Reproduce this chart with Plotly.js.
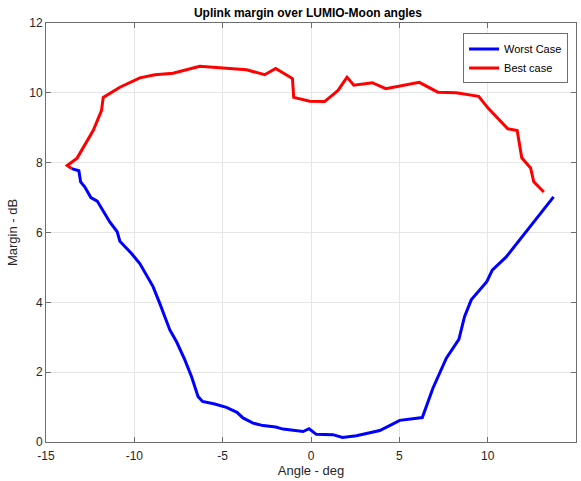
<!DOCTYPE html>
<html>
<head>
<meta charset="utf-8">
<script src="https://cdn.plot.ly/plotly-3.0.1.min.js"></script>
<style>html,body{margin:0;padding:0;background:#fff;}#chart{width:581px;height:481px;}</style>
</head>
<body>
<div id="chart"></div>
<script>
const worstAngle = [-13.55,-13.14,-13.04,-12.80,-12.46,-12.10,-11.39,-10.97,-10.82,-10.16,-9.69,-8.94,-8.56,-7.99,-7.61,-7.14,-6.76,-6.39,-6.14,-5.45,-4.79,-4.19,-3.85,-3.28,-2.71,-2.00,-1.58,-0.45,-0.11,0.30,1.24,1.78,2.57,3.89,4.45,5.02,6.30,6.90,7.66,8.37,8.69,9.07,9.95,10.26,11.05,12.37,12.75,13.73];
const worstMargin = [7.83,7.77,7.45,7.30,7.00,6.90,6.30,6.02,5.75,5.40,5.11,4.45,3.97,3.21,2.87,2.35,1.87,1.30,1.16,1.09,0.99,0.85,0.69,0.54,0.47,0.43,0.37,0.30,0.38,0.22,0.21,0.13,0.18,0.33,0.47,0.62,0.70,1.54,2.40,2.94,3.59,4.07,4.59,4.92,5.30,6.14,6.40,7.02];
const bestAngle = [-13.55,-13.80,-13.24,-12.33,-11.86,-11.76,-10.82,-9.69,-8.84,-7.81,-6.30,-5.16,-4.03,-3.65,-2.62,-2.00,-1.05,-0.98,-0.07,0.77,1.53,2.04,2.42,3.47,4.23,6.13,7.18,8.22,9.49,10.01,11.14,11.67,11.93,12.43,12.61,13.18];
const bestMargin = [7.83,7.92,8.13,8.92,9.49,9.87,10.16,10.43,10.52,10.56,10.76,10.71,10.67,10.66,10.52,10.70,10.41,9.87,9.76,9.75,10.07,10.45,10.22,10.29,10.12,10.30,10.02,10.00,9.90,9.57,8.97,8.92,8.14,7.85,7.45,7.16];
const xTicks = [-15,-10,-5,0,5,10,15];
const yTicks = [0,2,4,6,8,10,12];

const font = 'Liberation Sans, Arial, Helvetica, sans-serif';
const traces = [
  {x: worstAngle, y: worstMargin, type: 'scatter', mode: 'lines', name: 'Worst Case',
   line: {color: '#0000ff', width: 3}},
  {x: bestAngle, y: bestMargin, type: 'scatter', mode: 'lines', name: 'Best case',
   line: {color: '#ff0000', width: 3}}
];
const axisCommon = {
  showline: true, mirror: 'ticks', linecolor: '#6e6e6e', linewidth: 1,
  ticks: 'inside', ticklen: 5, tickcolor: '#6e6e6e',
  showgrid: true, gridcolor: '#e6e6e6', gridwidth: 1, zeroline: false,
  tickfont: {family: font, size: 12, color: '#262626'}
};
const layout = {
  width: 581, height: 481,
  margin: {l: 46, r: 5, t: 23, b: 39},
  paper_bgcolor: '#fff', plot_bgcolor: '#fff',
  font: {family: font, color: '#262626'},
  title: {text: '<b>Uplink margin over LUMIO-Moon angles</b>', font: {family: font, size: 12, color: '#000'},
          x: 0.53, xanchor: 'center', y: 0.973, yanchor: 'middle'},
  xaxis: Object.assign({}, axisCommon, {range: [-15, 15], tickvals: xTicks, ticktext: xTicks.map(String),
    ticklabelstandoff: 3,
    title: {text: 'Angle - deg', font: {family: font, size: 13, color: '#262626'}, standoff: 3}}),
  yaxis: Object.assign({}, axisCommon, {range: [0, 12], tickvals: yTicks, ticktext: yTicks.map(String),
    title: {text: 'Margin - dB', font: {family: font, size: 13, color: '#262626'}, standoff: 8}}),
  showlegend: true,
  legend: {x: 0.985, xanchor: 'right', y: 0.975, yanchor: 'top',
    bgcolor: '#fff', bordercolor: '#6e6e6e', borderwidth: 1,
    font: {family: font, size: 11, color: '#000'}, tracegroupgap: 0}
};
Plotly.newPlot('chart', traces, layout, {displayModeBar: false, staticPlot: true});
</script>
</body>
</html>
